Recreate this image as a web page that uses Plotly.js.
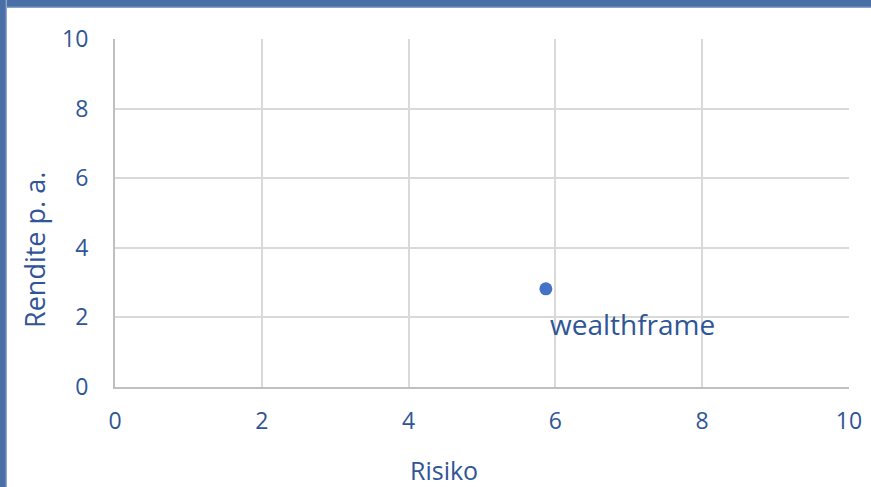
<!DOCTYPE html>
<html><head><meta charset="utf-8">
<script src="https://cdn.plot.ly/plotly-3.0.1.min.js"></script>
<style>
html,body{margin:0;padding:0;background:#fff;}
#wrap{position:relative;width:871px;height:487px;overflow:hidden;}
#chart{position:absolute;left:0;top:0;width:871px;height:487px;}
.bt{position:absolute;left:0;top:0;width:871px;height:8px;background:linear-gradient(#4a6fa6 0,#4a6fa6 6px,#9fb4d3 8px);}
.bl{position:absolute;left:0;top:0;width:7px;height:487px;background:linear-gradient(90deg,#4a6fa6 0,#4a6fa6 5px,#a9bcd8 7px);}
</style></head>
<body><div id="wrap"><div id="chart"></div><div class="bt"></div><div class="bl"></div></div>
<script>
const names = ["wealthframe"];
const risk = [5.87];
const ret = [2.82];
const xTicks = [0,2,4,6,8,10];
const yTicks = [0,2,4,6,8,10];
const xTitle = "Risiko";
const yTitle = "Rendite p. a.";

const fontFam = "'Open Sans', sans-serif";
const txtColor = "#2f5597";

Plotly.newPlot('chart', [{
  x: risk, y: ret, type: 'scatter', mode: 'markers',
  marker: {color: '#4472c4', size: 13},
  cliponaxis: false, hoverinfo: 'none'
}], {
  width: 871, height: 487,
  margin: {l: 115, r: 22, t: 39, b: 100},
  paper_bgcolor: '#fff', plot_bgcolor: '#fff',
  showlegend: false,
  font: {family: fontFam, color: txtColor, size: 20},
  xaxis: {range: [0, 10], tickvals: xTicks, ticktext: xTicks.map(String),
    showgrid: true, gridcolor: '#d9d9d9', gridwidth: 2, zeroline: false,
    showline: true, linecolor: '#bfbfbf', linewidth: 2, mirror: false,
    ticks: '', tickfont: {size: 23, color: txtColor, family: fontFam}, ticklabelstandoff: 12},
  yaxis: {range: [0, 10], tickvals: yTicks, ticktext: yTicks.map(String),
    showgrid: true, gridcolor: '#d9d9d9', gridwidth: 2, zeroline: false,
    showline: true, linecolor: '#bfbfbf', linewidth: 2,
    ticks: '', tickfont: {size: 23, color: txtColor, family: fontFam}, ticklabelstandoff: 20},
  annotations: [
    {text: names[0], x: risk[0], y: ret[0], xref: 'x', yref: 'y', showarrow: false,
     xanchor: 'left', yanchor: 'top', xshift: 2, yshift: -14,
     font: {size: 28, color: txtColor, family: fontFam}},
    {text: xTitle, xref: 'paper', yref: 'paper', x: (444-115)/734, y: -(470-387)/348,
     showarrow: false, xanchor: 'center', yanchor: 'middle', font: {size: 25, color: txtColor, family: fontFam}},
    {text: yTitle, xref: 'paper', yref: 'paper', x: (34-115)/734, y: (387-250)/348, textangle: -90,
     showarrow: false, xanchor: 'center', yanchor: 'middle', font: {size: 27, color: txtColor, family: fontFam}}
  ]
}, {displayModeBar: false, staticPlot: true});
</script></body></html>
